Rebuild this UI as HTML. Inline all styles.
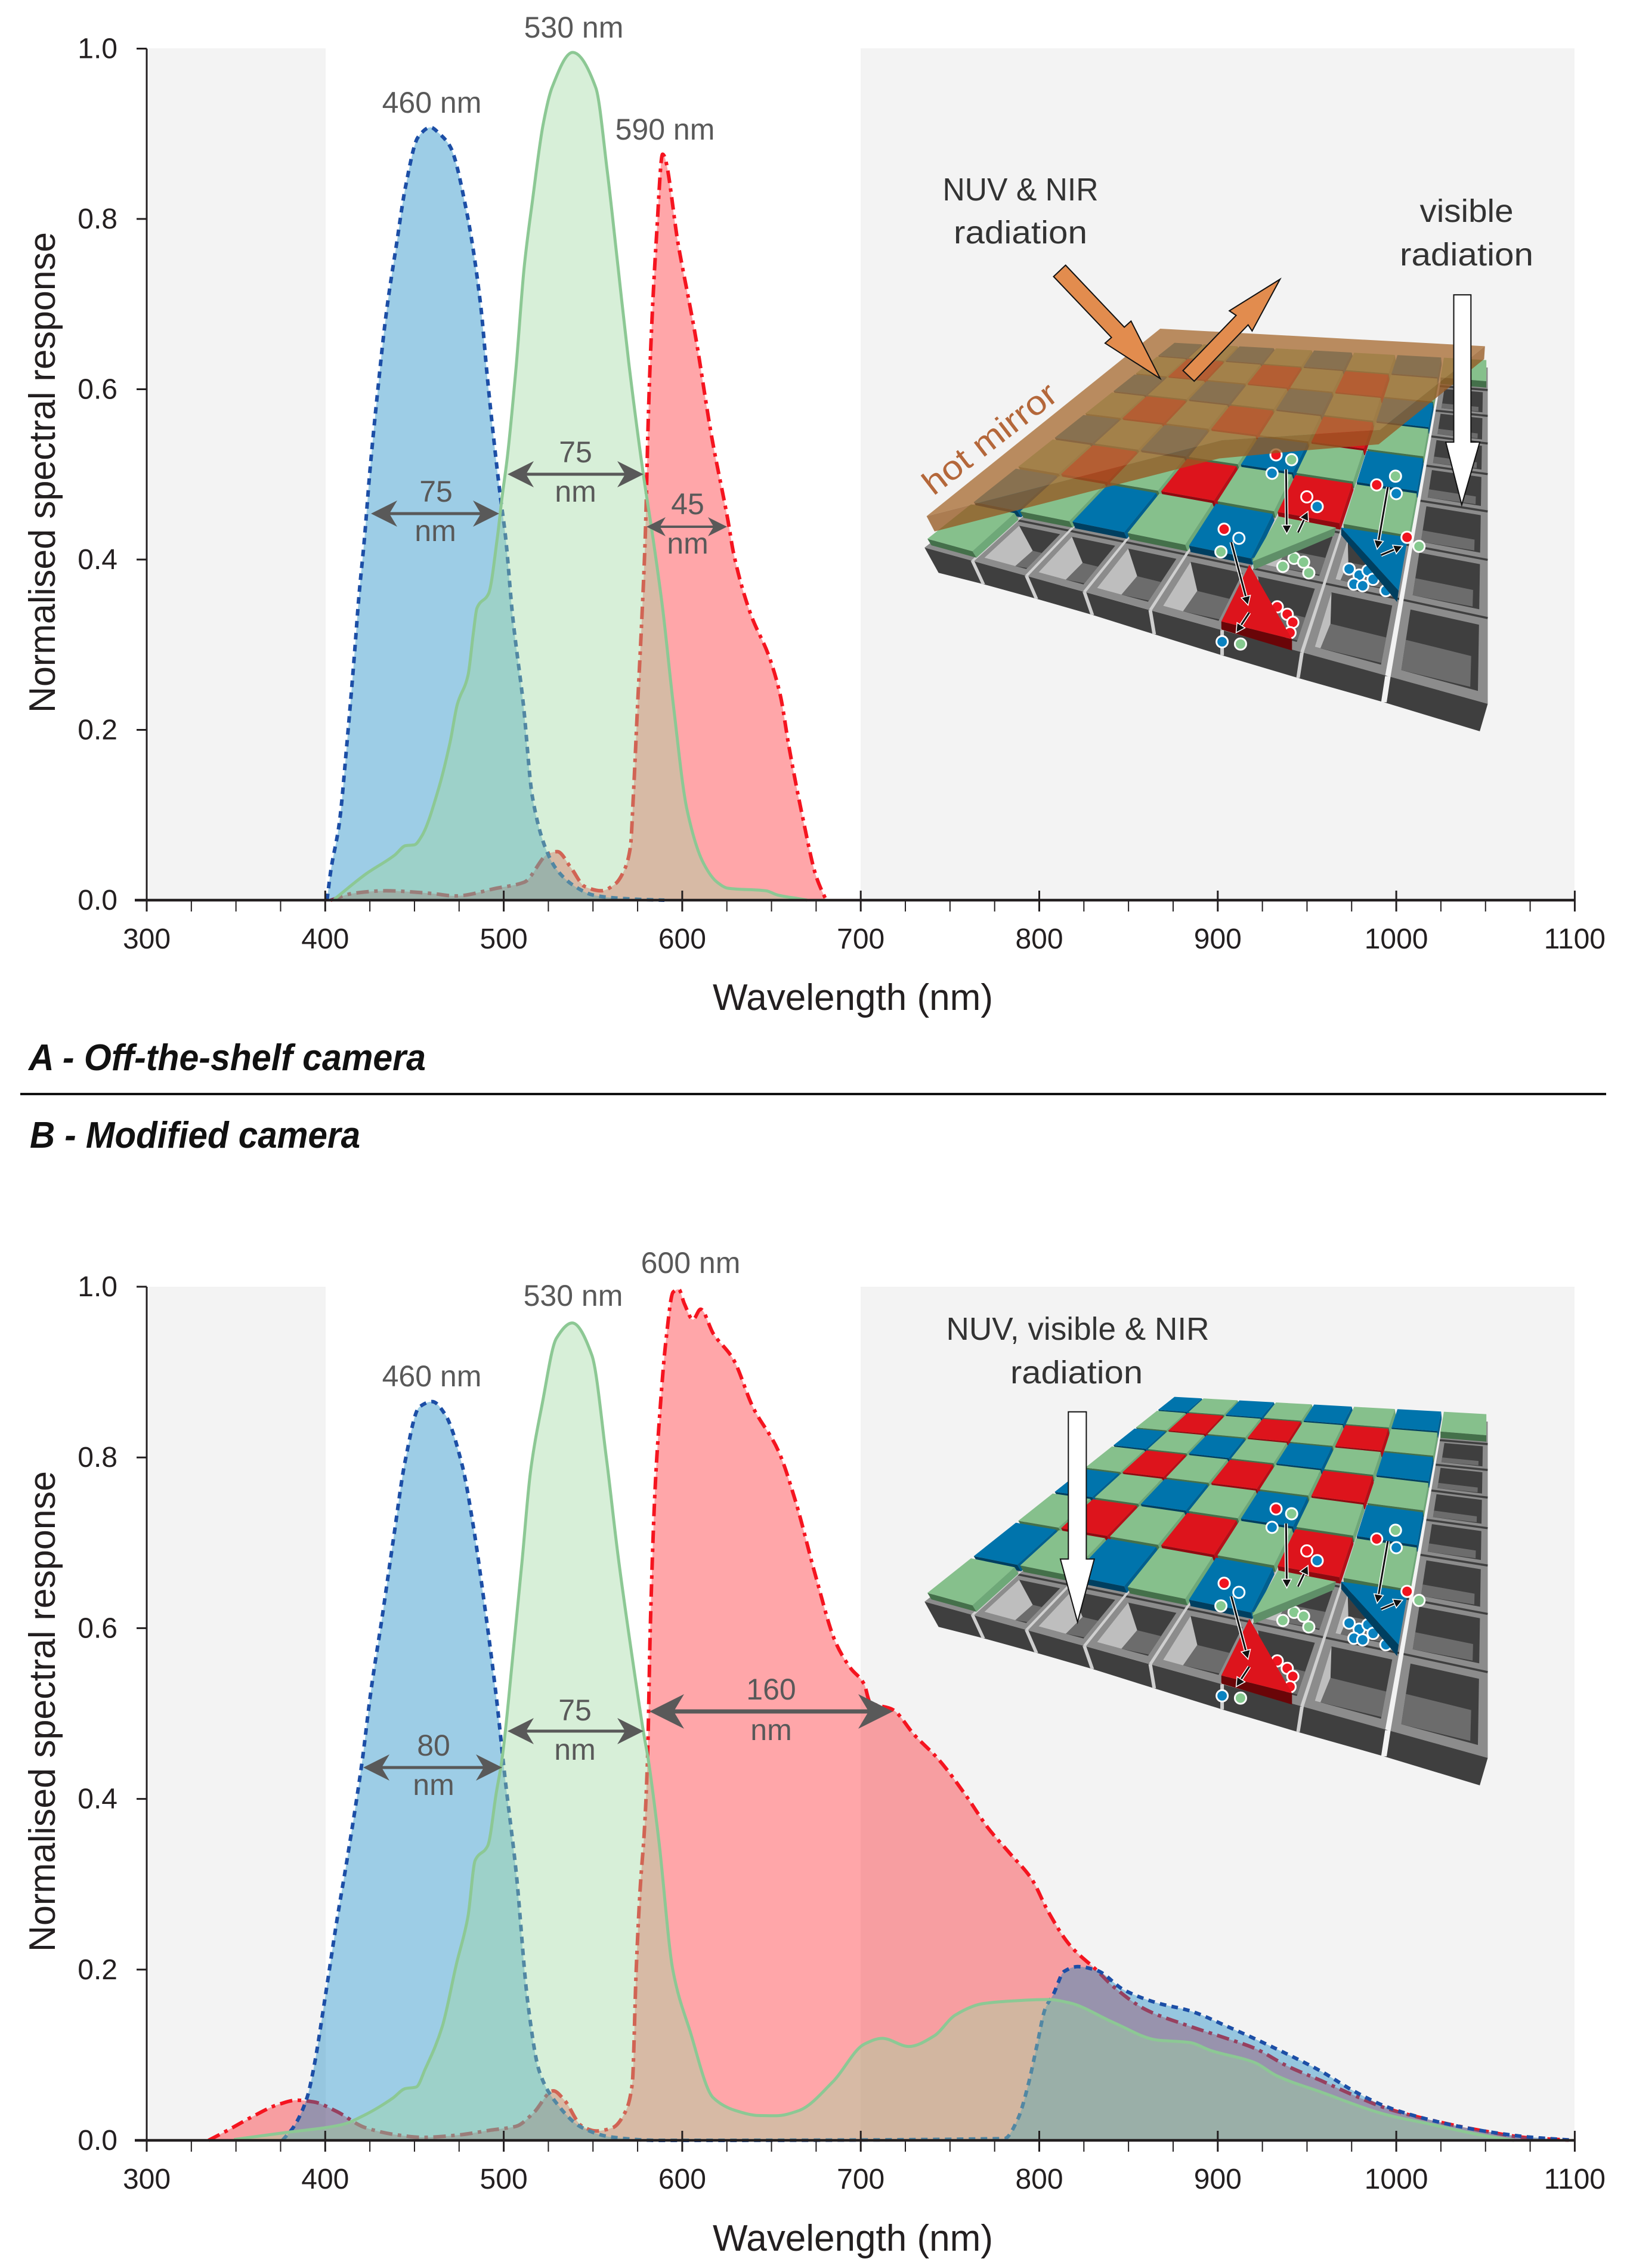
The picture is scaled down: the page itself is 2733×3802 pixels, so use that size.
<!DOCTYPE html>
<html lang="en">
<head>
<meta charset="utf-8">
<title>Normalised spectral response of off-the-shelf and modified cameras</title>
<style>
html,body{margin:0;padding:0;background:#fff;}
svg{display:block;}
text{font-family:"Liberation Sans",sans-serif;}
.tick{font-size:48px;fill:#231f20;}
.axis-title{font-size:62px;fill:#231f20;}
.note{font-size:50px;fill:#595959;}
.dark-note{font-size:54px;fill:#333;}
.panel-title{font-size:62px;font-weight:bold;font-style:italic;fill:#111;}
</style>
</head>
<body>
<svg id="figure" width="2733" height="3802" viewBox="0 0 2733 3802">
  <rect x="0" y="0" width="2733" height="3802" fill="#fff"/>

  <g fill="#f3f3f3">
    <rect x="250" y="81" width="296" height="1426"/>
    <rect x="1443" y="81" width="1197" height="1426"/>
  </g>
  <g fill="#f3f3f3">
    <rect x="250" y="2157" width="296" height="1430"/>
    <rect x="1443" y="2157" width="1197" height="1430"/>
  </g>

  <g id="sensor-a"></g>
  <g id="sensor-b"></g>
  <g id="plot-a"></g>
  <g id="plot-b"></g>
  <g id="axes-a"></g>
  <g id="axes-b"></g>
  <g id="fwhm"></g>

  <text class="axis-title" transform="translate(92,792) rotate(-90)" text-anchor="middle" textLength="806" lengthAdjust="spacingAndGlyphs">Normalised spectral response</text>
  <text class="axis-title" x="1430" y="1693" text-anchor="middle" textLength="470" lengthAdjust="spacingAndGlyphs">Wavelength (nm)</text>
  <text class="axis-title" transform="translate(92,2869) rotate(-90)" text-anchor="middle" textLength="806" lengthAdjust="spacingAndGlyphs">Normalised spectral response</text>
  <text class="axis-title" x="1430" y="3773" text-anchor="middle" textLength="470" lengthAdjust="spacingAndGlyphs">Wavelength (nm)</text>

  <text class="panel-title" x="48" y="1794" textLength="666" lengthAdjust="spacingAndGlyphs">A - Off-the-shelf camera</text>
  <rect x="34" y="1832" width="2659" height="4" fill="#111"/>
  <text class="panel-title" x="50" y="1924" textLength="554" lengthAdjust="spacingAndGlyphs">B - Modified camera</text>

  <text class="note" x="962" y="63" text-anchor="middle">530 nm</text>
  <text class="note" x="724" y="189" text-anchor="middle">460 nm</text>
  <text class="note" x="1115" y="234" text-anchor="middle">590 nm</text>
  <text class="note" x="731" y="841" text-anchor="middle">75</text>
  <text class="note" x="730" y="907" text-anchor="middle">nm</text>
  <text class="note" x="965" y="775" text-anchor="middle">75</text>
  <text class="note" x="965" y="841" text-anchor="middle">nm</text>
  <text class="note" x="1153" y="862" text-anchor="middle">45</text>
  <text class="note" x="1153" y="928" text-anchor="middle">nm</text>

  <text class="note" x="1158" y="2134" text-anchor="middle">600 nm</text>
  <text class="note" x="961" y="2189" text-anchor="middle">530 nm</text>
  <text class="note" x="724" y="2324" text-anchor="middle">460 nm</text>
  <text class="note" x="964" y="2884" text-anchor="middle">75</text>
  <text class="note" x="964" y="2950" text-anchor="middle">nm</text>
  <text class="note" x="727" y="2943" text-anchor="middle">80</text>
  <text class="note" x="727" y="3009" text-anchor="middle">nm</text>
  <text class="note" x="1293" y="2849" text-anchor="middle">160</text>
  <text class="note" x="1293" y="2917" text-anchor="middle">nm</text>

  <text class="dark-note" x="1711" y="336" text-anchor="middle" textLength="261" lengthAdjust="spacingAndGlyphs">NUV &amp; NIR</text>
  <text class="dark-note" x="1711" y="408" text-anchor="middle" textLength="224" lengthAdjust="spacingAndGlyphs">radiation</text>
  <text class="dark-note" x="2459" y="372" text-anchor="middle" textLength="157" lengthAdjust="spacingAndGlyphs">visible</text>
  <text class="dark-note" x="2459" y="445" text-anchor="middle" textLength="224" lengthAdjust="spacingAndGlyphs">radiation</text>
  <text transform="translate(1565,832) rotate(-37.7)" font-size="56" fill="#b4673a" textLength="268" lengthAdjust="spacingAndGlyphs">hot mirror</text>
  <text class="dark-note" x="1807" y="2246" text-anchor="middle" textLength="441" lengthAdjust="spacingAndGlyphs">NUV, visible &amp; NIR</text>
  <text class="dark-note" x="1805" y="2319" text-anchor="middle" textLength="222" lengthAdjust="spacingAndGlyphs">radiation</text>
</svg>

<script>
/* ---------- chart data: wavelengths (nm) and normalised responses ---------- */
const xMajorTicks = [300, 400, 500, 600, 700, 800, 900, 1000, 1100];
const xMinorTicks = [325, 350, 375, 425, 450, 475, 525, 550, 575, 625, 650, 675, 725, 750, 775, 825, 850, 875, 925, 950, 975, 1025, 1050, 1075];
const yTickValues = [0, 0.2, 0.4, 0.6, 0.8, 1];
const yTickLabels = ['0.0', '0.2', '0.4', '0.6', '0.8', '1.0'];

const aBlueNm = [401, 403, 408, 412, 416, 419, 422, 425, 429.5, 434, 440, 445, 452, 459, 464, 470, 479, 487, 491, 498, 501, 505, 511, 516, 524, 530, 540, 550, 560, 575, 590];
const aBlueResp = [0, 0.033, 0.092, 0.18, 0.279, 0.36, 0.425, 0.503, 0.6, 0.686, 0.771, 0.838, 0.896, 0.9075, 0.9, 0.885, 0.811, 0.7, 0.61, 0.476, 0.427, 0.333, 0.23, 0.122, 0.058, 0.035, 0.016, 0.006, 0.003, 0.001, 0];

const aGreenNm = [405, 423, 439, 445, 450, 454, 463.5, 470, 474, 480, 483, 485, 491.5, 496.5, 499, 502, 507, 511.5, 516, 522, 527, 538.6, 551.6, 558, 564, 570, 578, 583.5, 589, 595, 602.6, 612, 619.6, 625.7, 647, 653.5, 667.5, 670];
const aGreenResp = [0.001, 0.031, 0.053, 0.064, 0.065, 0.075, 0.131, 0.186, 0.23, 0.264, 0.314, 0.343, 0.36, 0.427, 0.472, 0.52, 0.628, 0.744, 0.82, 0.91, 0.954, 0.9955, 0.954, 0.856, 0.744, 0.632, 0.503, 0.427, 0.343, 0.23, 0.107, 0.043, 0.021, 0.014, 0.011, 0.006, 0.001, 0];

const aRedNm = [403, 415.6, 434, 459, 473, 496, 511.4, 525.3, 530, 537.7, 545.4, 554.6, 562.4, 567, 571, 572.6, 575, 577.3, 579.3, 581, 582.5, 585.6, 589, 598, 607.3, 616.5, 625.7, 628.8, 638, 649, 655, 659.8, 667.5, 675, 680.6];
const aRedResp = [0, 0.008, 0.011, 0.008, 0.005, 0.014, 0.021, 0.055, 0.057, 0.038, 0.016, 0.011, 0.019, 0.033, 0.063, 0.122, 0.23, 0.328, 0.427, 0.566, 0.655, 0.78, 0.876, 0.767, 0.664, 0.544, 0.445, 0.407, 0.338, 0.284, 0.24, 0.18, 0.097, 0.028, 0];

const bBlueNm = [376, 382.4, 389.8, 393.6, 400, 406.4, 412.8, 420.8, 425.6, 432, 438.4, 444.7, 452.7, 460, 467, 476.7, 483, 489.5, 495.9, 500.7, 507, 513.5, 519.9, 529.4, 543.8, 559.8, 585.5, 780.5, 788, 794, 798.8, 803.3, 807.9, 814, 821.6, 832.3, 847.6, 866, 884, 905.8, 936, 957.8, 976, 994.4, 1018.9, 1049, 1073.6, 1100];
const bBlueResp = [0, 0.016, 0.05, 0.085, 0.168, 0.256, 0.336, 0.446, 0.526, 0.6146, 0.707, 0.795, 0.859, 0.8654, 0.851, 0.791, 0.719, 0.623, 0.5185, 0.425, 0.313, 0.161, 0.081, 0.044, 0.015, 0.004, 0, 0.002, 0.025, 0.0666, 0.112, 0.154, 0.171, 0.198, 0.2035, 0.199, 0.176, 0.161, 0.152, 0.133, 0.104, 0.081, 0.058, 0.0395, 0.024, 0.011, 0.004, 0];

const bGreenNm = [348.9, 377.6, 409.6, 422.4, 438, 444.8, 451, 456, 465.5, 473.5, 480, 484, 491, 495.9, 499, 505.6, 510.3, 515, 521.6, 529.5, 538.4, 549.4, 557.5, 563.9, 571.9, 578.3, 581, 586.9, 594.8, 604.4, 617.3, 630, 642.9, 652.5, 665.3, 684.5, 702, 712, 727, 740.9, 752.9, 768, 780.5, 805, 817, 841.6, 866, 884, 896.4, 920.8, 933, 957.8, 994.4, 1018.9, 1049, 1066];
const bGreenResp = [0.001, 0.0091, 0.0185, 0.03, 0.0497, 0.0606, 0.0625, 0.0835, 0.1328, 0.2066, 0.2625, 0.328, 0.345, 0.408, 0.446, 0.5786, 0.679, 0.7834, 0.863, 0.9396, 0.9576, 0.9196, 0.7994, 0.687, 0.567, 0.478, 0.446, 0.351, 0.199, 0.1277, 0.05, 0.0348, 0.0291, 0.0288, 0.0348, 0.0689, 0.1127, 0.1195, 0.11, 0.122, 0.1467, 0.16, 0.1627, 0.165, 0.161, 0.138, 0.1175, 0.1147, 0.105, 0.091, 0.0757, 0.0566, 0.0301, 0.019, 0.0056, 0];

const bRedNm = [334.6, 345.6, 358.5, 374.4, 384, 393.6, 406.4, 422.5, 441.5, 454.4, 473.5, 492.8, 507, 516.6, 527.8, 534, 543.8, 551.8, 561, 567.8, 572, 574.2, 576.4, 579, 580.6, 582.1, 584.7, 587, 591, 594.9, 598, 601.2, 606, 610.3, 617.4, 628.5, 639.6, 654, 663.7, 675, 686, 694, 702, 705, 718, 730, 743.7, 759, 771.3, 783.6, 795.8, 805, 817, 832.3, 841.6, 859.8, 881, 902.6, 920.8, 939, 957.8, 976, 994.4, 1018.9, 1049, 1073.6, 1100];
const bRedResp = [0, 0.012, 0.027, 0.0425, 0.047, 0.045, 0.0338, 0.0148, 0.006, 0.0035, 0.006, 0.012, 0.0165, 0.032, 0.058, 0.047, 0.0166, 0.011, 0.0148, 0.032, 0.066, 0.199, 0.294, 0.37, 0.45, 0.599, 0.759, 0.839, 0.9396, 0.9937, 0.997, 0.98, 0.9615, 0.9736, 0.945, 0.9154, 0.859, 0.807, 0.747, 0.659, 0.583, 0.554, 0.534, 0.514, 0.5045, 0.475, 0.446, 0.4037, 0.366, 0.336, 0.306, 0.268, 0.229, 0.199, 0.18, 0.153, 0.136, 0.121, 0.1077, 0.087, 0.07, 0.053, 0.0376, 0.024, 0.011, 0.003, 0];

/* ---------- helpers ---------- */
const root = document.getElementById('figure');
const NS = root.namespaceURI;

function make(parent, tag, name, attrs) {
  const el = document.createElementNS(NS, tag);
  
  
  for (const k in attrs) el.setAttribute(k, attrs[k]);
  parent.appendChild(el);
  return el;
}

function xScale(nm) { return 246 + (nm - 300) * 2.993; }
function yScaleA(v) { return 1509 - v * 1427.5; }
function yScaleB(v) { return 3588 - v * 1431; }

/* monotone cubic path through the data (no overshoot at uneven spacing) */
function curvePath(nm, resp, yScale) {
  const px = nm.map(xScale), py = resp.map(yScale), n = px.length;
  const h = [], s = [], m = [];
  for (let i = 0; i < n - 1; i++) {
    h[i] = px[i + 1] - px[i];
    s[i] = (py[i + 1] - py[i]) / h[i];
  }
  m[0] = s[0];
  m[n - 1] = s[n - 2];
  for (let i = 1; i < n - 1; i++) {
    if (s[i - 1] * s[i] <= 0) { m[i] = 0; continue; }
    const w1 = 2 * h[i] + h[i - 1], w2 = h[i] + 2 * h[i - 1];
    m[i] = (w1 + w2) / (w1 / s[i - 1] + w2 / s[i]);
  }
  let d = 'M' + px[0].toFixed(1) + ',' + py[0].toFixed(1);
  for (let i = 0; i < n - 1; i++) {
    const t = h[i] / 3;
    d += 'C' + (px[i] + t).toFixed(1) + ',' + (py[i] + m[i] * t).toFixed(1) + ' ' +
      (px[i + 1] - t).toFixed(1) + ',' + (py[i + 1] - m[i + 1] * t).toFixed(1) + ' ' +
      px[i + 1].toFixed(1) + ',' + py[i + 1].toFixed(1);
  }
  return d;
}

function drawSeries(parent, name, nm, resp, yScale, fill, fillOpacity, stroke, dash, width) {
  const line = curvePath(nm, resp, yScale);
  const base = yScale(0).toFixed(1);
  const area = line + 'L' + xScale(nm[nm.length - 1]).toFixed(1) + ',' + base + 'L' + xScale(nm[0]).toFixed(1) + ',' + base + 'Z';
  make(parent, 'path', name + '-area', { d: area, fill: fill, 'fill-opacity': fillOpacity, stroke: 'none' });
  const lineAttrs = { d: line, fill: 'none', stroke: stroke, 'stroke-width': width, 'stroke-linejoin': 'round' };
  if (dash) lineAttrs['stroke-dasharray'] = dash;
  make(parent, 'path', name + '-line', lineAttrs);
}

function drawPlot(parent, prefix, yScale, rn, rr, bn, br, gn, gr) {
  drawSeries(parent, prefix + '-red', rn, rr, yScale, 'rgb(255,0,10)', 0.35, '#f5141f', '21 9 6 9', 6);
  drawSeries(parent, prefix + '-blue', bn, br, yScale, 'rgb(10,130,192)', 0.4, '#1c4ea6', '11 9', 6);
  drawSeries(parent, prefix + '-green', gn, gr, yScale, 'rgb(157,215,160)', 0.41, '#8cc894', '', 5);
}

function drawAxes(parent, prefix, yScale) {
  const y0 = yScale(0), y1 = yScale(1);
  make(parent, 'line', prefix + '-y-axis', { x1: 246, y1: y1, x2: 246, y2: y0, stroke: '#231f20', 'stroke-width': 3 });
  make(parent, 'line', prefix + '-x-axis', { x1: 226, y1: y0, x2: xScale(1100), y2: y0, stroke: '#231f20', 'stroke-width': 4.5 });
  yTickValues.forEach(function (v, i) {
    make(parent, 'line', prefix + '-y-tick', { x1: 229, y1: yScale(v), x2: 246, y2: yScale(v), stroke: '#231f20', 'stroke-width': 3 });
    const t = make(parent, 'text', prefix + '-y-tick-label', { x: 197, y: yScale(v) + 16, 'text-anchor': 'end', class: 'tick' });
    t.textContent = yTickLabels[i];
  });
  xMajorTicks.forEach(function (nm) {
    const top = nm === 300 ? y0 : y0 - 16;
    make(parent, 'line', prefix + '-x-major-tick', { x1: xScale(nm), y1: top, x2: xScale(nm), y2: y0 + 19, stroke: '#231f20', 'stroke-width': 3 });
    const t = make(parent, 'text', prefix + '-x-tick-label', { x: xScale(nm), y: y0 + 81, 'text-anchor': 'middle', class: 'tick' });
    t.textContent = String(nm);
  });
  xMinorTicks.forEach(function (nm) {
    make(parent, 'line', prefix + '-x-minor-tick', { x1: xScale(nm), y1: y0, x2: xScale(nm), y2: y0 + 19, stroke: '#231f20', 'stroke-width': 2 });
  });
}

function doubleArrow(parent, name, x1, x2, y, head, sw) {
  const g = make(parent, 'g', name, {});
  make(g, 'line', name + '-shaft', { x1: x1 + head * 0.6, y1: y, x2: x2 - head * 0.6, y2: y, stroke: '#595959', 'stroke-width': sw });
  const hh = head * 0.5;
  make(g, 'polygon', name + '-head-left', { points: [x1, y, x1 + head, y - hh, x1 + head * 0.7, y, x1 + head, y + hh].join(','), fill: '#595959' });
  make(g, 'polygon', name + '-head-right', { points: [x2, y, x2 - head, y - hh, x2 - head * 0.7, y, x2 - head, y + hh].join(','), fill: '#595959' });
}

/* ---------- sensor illustration (geometry in reference-crop units) ---------- */
const backX = [700, 772, 862, 953, 1048, 1148, 1256, 1372, 1485];
const frontX = [75, 195, 330, 475, 640, 820, 1020, 1235, 1485];
const rowL = [0, 0.07, 0.16, 0.25, 0.364, 0.487, 0.634, 0.814, 1];
const rowR = [0, 0.067, 0.144, 0.226, 0.317, 0.428, 0.572, 0.745, 1];
const wallBottomX = [110, 222, 355, 495, 650, 820, 1010, 1225, 1465];
const wallBottomY = [1065, 1100, 1145, 1195, 1255, 1320, 1390, 1465, 1555];

function lerp(a, b, t) { return a + (b - a) * t; }
function gridPt(i, j, lift) {
  const t = lerp(rowL[j], rowR[j], i / 8);
  const bx = backX[i], fx = frontX[i];
  const by = lerp(352, 405, (bx - 700) / 785);
  const fy = lerp(962, 1445, (fx - 75) / 1410);
  return [lerp(bx, fx, t), lerp(by, fy, t) + lift];
}
function cellPt(i, j, p, q, lift) {
  const a = gridPt(i, j, lift), b = gridPt(i + 1, j, lift), c = gridPt(i + 1, j + 1, lift), d = gridPt(i, j + 1, lift);
  const tx = lerp(a[0], b[0], p), ty = lerp(a[1], b[1], p);
  const ux = lerp(d[0], c[0], p), uy = lerp(d[1], c[1], p);
  return [lerp(tx, ux, q), lerp(ty, uy, q)];
}

function drawSensor(parent, shiftY) {
  function R(pt) { return [1500 + pt[0] * 0.66967, 2150 - shiftY + pt[1] * 0.54209]; }
  function poly(g, name, pts, fill, extra) {
    const attrs = { points: pts.map(function (p) { const r = R(p); return r[0].toFixed(1) + ',' + r[1].toFixed(1); }).join(' '), fill: fill };
    for (const k in extra || {}) attrs[k] = extra[k];
    return make(g, 'polygon', name, attrs);
  }
  const L = 25;
  /* base plate */
  poly(parent, 'pixel-base-plate', [gridPt(0, 0, L), gridPt(8, 0, L), gridPt(8, 8, L), gridPt(0, 8, L)], '#8c8c8c');

  /* open photosites */
  const floorLeft = [0.8, 0.78, 0.65, 0.52, 0.4, 0.28, 0.125, 0];
  const floorBack = [0.75, 0.75, 0.74, 0.72, 0.7, 0.68, 0.6, 0.5];
  function pit(i, j) {
    const g = make(parent, 'g', 'photosite-well', {});
    const P = function (p, q) { return cellPt(i, j, lerp(0.12, 0.9, p), lerp(0.1, 0.88, q), L); };
    const a = floorLeft[i], b = i === 7 ? floorBack[j] : 0.54;
    const right = i === 7 ? 0.9 : 1;
    poly(g, 'well-dark-wall', [P(0, 0), P(1, 0), P(1, 1), P(0, 1)], '#3f3f3f');
    if (a > 0) poly(g, 'well-left-wall', [P(0, 0), P(a, b), P(Math.max(0, a - 0.04), 1), P(0, 1)], '#bebebe');
    poly(g, 'well-floor', [P(a, b), P(right, b), P(right, 0.97), P(Math.max(0, a - 0.04), 1)], '#6c6c6c');
    const s = R(cellPt(i, j, 0, 0, L)), e = R(cellPt(i, j, 1, 0, L));
    make(g, 'line', 'well-back-groove', { x1: s[0], y1: s[1], x2: e[0], y2: e[1], stroke: '#3f3f3f', 'stroke-width': 3.5 });
  }
  for (let j = 1; j < 8; j++) pit(7, j);
  for (let i = 1; i < 7; i++) pit(i, 7);
  pit(5, 6);
  pit(6, 6);

  /* column gaps run through plate and front wall */
  for (let i = 1; i < 8; i++) {
    const start = gridPt(i, i === 7 ? 0 : 0, L), mid = gridPt(i, 8, L), end = [wallBottomX[i], wallBottomY[i]];
    const wb = i === 7 ? 2 : 1.6, wf = i === 7 ? 7 : 4.5;
    const colour = i === 7 ? '#f2f2f2' : '#cfcfcf';
    const g = make(parent, 'g', 'column-gap', {});
    poly(g, 'column-gap-top', [[start[0] - wb, start[1]], [start[0] + wb, start[1]], [mid[0] + wf, mid[1]], [mid[0] - wf, mid[1]]], colour);
    make(parent, 'title', 'unused-title', {}).remove();
  }

  /* front wall */
  for (let i = 0; i < 8; i++) {
    poly(parent, 'front-wall-segment', [gridPt(i, 8, L), gridPt(i + 1, 8, L), [wallBottomX[i + 1], wallBottomY[i + 1]], [wallBottomX[i], wallBottomY[i]]], '#3f3f3f');
  }
  for (let i = 1; i < 8; i++) {
    const a = gridPt(i, 8, L), b = [wallBottomX[i], wallBottomY[i]];
    const w = i === 7 ? 7 : 4.5;
    poly(parent, 'front-wall-gap', [[a[0] - w, a[1]], [a[0] + w, a[1]], [b[0] + w, b[1]], [b[0] - w, b[1]]], i === 7 ? '#f2f2f2' : '#cfcfcf');
  }

  /* colour filter mosaic */
  const tops = { B: '#0074ac', G: '#86c08c', R: '#dd141c' };
  const fronts = { B: '#003f60', G: '#44704a', R: '#8f0a10' };
  const rights = { B: '#005f8f', G: '#6ea878', R: '#b50f17' };
  const names = { B: 'blue-filter', G: 'green-filter', R: 'red-filter' };
  function filterCell(i, j) {
    const c = j % 2 === 0 ? (i % 2 === 0 ? 'B' : 'G') : (i % 2 === 0 ? 'G' : 'R');
    const a = cellPt(i, j, 0.03, 0.03, 0), b = cellPt(i, j, 0.97, 0.03, 0), d = cellPt(i, j, 0.97, 0.97, 0), e = cellPt(i, j, 0.03, 0.97, 0);
    const t = 20, dx = 10 * Math.max(0, 1 - i / 7);
    const sh = function (p) { return [p[0] + dx, p[1] + t]; };
    poly(parent, names[c] + '-right-side', [b, sh(b), sh(d), d], rights[c]);
    poly(parent, names[c] + '-front-side', [e, d, sh(d), sh(e)], fronts[c]);
    poly(parent, names[c] + '-top', [a, b, d, e], tops[c]);
  }
  for (let j = 0; j < 8; j++) {
    for (let i = 0; i < 8; i++) {
      const present = (j === 0) || (j <= 5 && i <= 6) || (j === 6 && i <= 4) || (j === 7 && i === 0);
      if (present) filterCell(i, j);
    }
  }

  function dot(x, y, fill, name) {
    const r = R([x, y]);
    make(parent, 'circle', name, { cx: r[0], cy: r[1], r: 9.5, fill: fill, stroke: '#fff', 'stroke-width': 3 });
  }
  /* electrons already inside wells */
  [[1000, 1020], [1024, 1032], [972, 1045], [1037, 1065]].forEach(function (p) { dot(p[0], p[1], '#86c98f', 'green-charge'); });
  [[1138, 1053], [1163, 1072], [1185, 1058], [1198, 1085], [1150, 1100], [1172, 1105], [1230, 1120]].forEach(function (p) { dot(p[0], p[1], '#0a82c0', 'blue-charge'); });

  /* tilted filters */
  poly(parent, 'tilted-green-filter-side', [[895, 1020], [1105, 925], [1100, 950], [900, 1055]], '#5f8f68');
  poly(parent, 'tilted-green-filter', [[960, 890], [1105, 925], [895, 1030]], '#86c08c');
  poly(parent, 'tilted-blue-filter-side', [[1118, 925], [1262, 1120], [1258, 1155], [1118, 948]], '#003f60');
  poly(parent, 'tilted-blue-filter', [[1118, 925], [1285, 955], [1262, 1120]], '#0074ac');
  [[958, 1170], [983, 1193], [997, 1218], [990, 1250]].forEach(function (p) { dot(p[0], p[1], '#f0141f', 'red-charge'); });
  poly(parent, 'tilted-red-filter-side', [[818, 1215], [995, 1270], [995, 1305], [818, 1240]], '#6a0508');
  poly(parent, 'tilted-red-filter', [[888, 1040], [995, 1270], [818, 1215]], '#dd141c');

  /* charge dots and paths */
  [[955, 700, '#f0141f'], [994, 715, '#86c98f'], [945, 757, '#0a82c0'], [1032, 830, '#f0141f'], [1058, 860, '#0a82c0'], [1207, 793, '#f0141f'], [1254, 766, '#86c98f'], [1256, 820, '#0a82c0'], [1283, 955, '#f0141f'], [1313, 983, '#86c98f'], [825, 930, '#f0141f'], [862, 958, '#0a82c0'], [817, 1000, '#86c98f'], [820, 1278, '#0a82c0'], [866, 1285, '#86c98f']].forEach(function (p) {
    dot(p[0], p[1], p[2], 'charge-dot');
  });

  function smallArrow(x1, y1, x2, y2, whiteCore) {
    const g = make(parent, 'g', 'charge-path-arrow', {});
    const a = R([x1, y1]), b = R([x2, y2]);
    const len = Math.hypot(b[0] - a[0], b[1] - a[1]);
    const ux = (b[0] - a[0]) / len, uy = (b[1] - a[1]) / len;
    const hx = b[0] - ux * 15, hy = b[1] - uy * 15;
    make(g, 'line', 'charge-path-outline', { x1: a[0], y1: a[1], x2: hx, y2: hy, stroke: whiteCore ? '#fff' : '#fff', 'stroke-width': 6 });
    make(g, 'line', 'charge-path-core', { x1: a[0], y1: a[1], x2: hx, y2: hy, stroke: '#111', 'stroke-width': 3 });
    make(g, 'polygon', 'charge-path-head', { points: [b[0], b[1], hx - uy * 8, hy + ux * 8, hx + uy * 8, hy - ux * 8].join(','), fill: '#111', stroke: '#fff', 'stroke-width': 1.5 });
  }
  smallArrow(980, 745, 982, 945, true);
  smallArrow(1010, 940, 1035, 875, false);
  smallArrow(1235, 800, 1208, 992, true);
  smallArrow(1218, 1010, 1272, 982, false);
  smallArrow(843, 970, 885, 1165, true);
  smallArrow(888, 1188, 855, 1250, false);
}

/* hot mirror and radiation arrows for panel A (crop units -> page) */
function drawMirror(parent) {
  function Q(zx, zy) { return (1500 + zx * 0.66967).toFixed(1) + ',' + (250 + zy * 0.63776).toFixed(1); }
  function shape(name, pts, attrs) {
    const a = { points: pts.map(function (p) { return Q(p[0], p[1]); }).join(' ') };
    for (const k in attrs) a[k] = attrs[k];
    make(parent, 'polygon', name, a);
  }
  shape('hot-mirror-plate', [[665, 472], [1478, 518], [1215, 738], [820, 765], [80, 965]], { fill: 'rgb(170,112,58)', 'fill-opacity': 0.8 });
  shape('hot-mirror-edge', [[80, 965], [100, 1005], [675, 850], [813, 813], [1026, 792], [1212, 776], [1476, 552], [1478, 518], [1215, 738], [820, 765]], { fill: 'rgb(150,90,35)', 'fill-opacity': 0.78 });
  shape('reflected-radiation-arrow', [[965, 342], [895, 478], [885, 462], [750, 610], [722, 582], [855, 437], [838, 425]], { fill: '#e28c4e', stroke: '#111', 'stroke-width': 2 });
  shape('incoming-radiation-arrow', [[428, 305], [575, 468], [592, 452], [665, 603], [527, 510], [543, 495], [398, 335]], { fill: '#e28c4e', stroke: '#111', 'stroke-width': 2 });
  shape('visible-radiation-arrow', [[1400, 383], [1443, 383], [1443, 770], [1465, 770], [1420, 935], [1380, 770], [1400, 770]], { fill: '#fff', stroke: '#111', 'stroke-width': 2 });
}

function drawBArrow(parent) {
  function Q(zx, zy) { return (1500 + zx * 0.66967).toFixed(1) + ',' + (2150 + zy * 0.54209).toFixed(1); }
  const pts = [[435, 400], [480, 400], [480, 855], [500, 855], [458, 1050], [415, 855], [435, 855]];
  make(parent, 'polygon', 'all-radiation-arrow', { points: pts.map(function (p) { return Q(p[0], p[1]); }).join(' '), fill: '#fff', stroke: '#111', 'stroke-width': 2 });
}

/* ---------- render ---------- */
const sensorA = document.getElementById('sensor-a');
const sensorB = document.getElementById('sensor-b');
drawSensor(sensorA, 1767);
drawMirror(sensorA);
drawSensor(sensorB, 0);
drawBArrow(sensorB);

drawPlot(document.getElementById('plot-a'), 'panel-a', yScaleA, aRedNm, aRedResp, aBlueNm, aBlueResp, aGreenNm, aGreenResp);
drawPlot(document.getElementById('plot-b'), 'panel-b', yScaleB, bRedNm, bRedResp, bBlueNm, bBlueResp, bGreenNm, bGreenResp);
drawAxes(document.getElementById('axes-a'), 'panel-a', yScaleA);
drawAxes(document.getElementById('axes-b'), 'panel-b', yScaleB);

const fwhmGroup = document.getElementById('fwhm');
doubleArrow(fwhmGroup, 'panel-a-blue-width-arrow', 622, 837, 861, 44, 5);
doubleArrow(fwhmGroup, 'panel-a-green-width-arrow', 851, 1079, 795, 44, 5);
doubleArrow(fwhmGroup, 'panel-a-red-width-arrow', 1084, 1219, 883, 32, 4);
doubleArrow(fwhmGroup, 'panel-b-green-width-arrow', 851, 1079, 2902, 44, 5);
doubleArrow(fwhmGroup, 'panel-b-blue-width-arrow', 609, 842, 2963, 44, 5);
doubleArrow(fwhmGroup, 'panel-b-red-width-arrow', 1089, 1497, 2869, 58, 7);
</script>
</body>
</html>
